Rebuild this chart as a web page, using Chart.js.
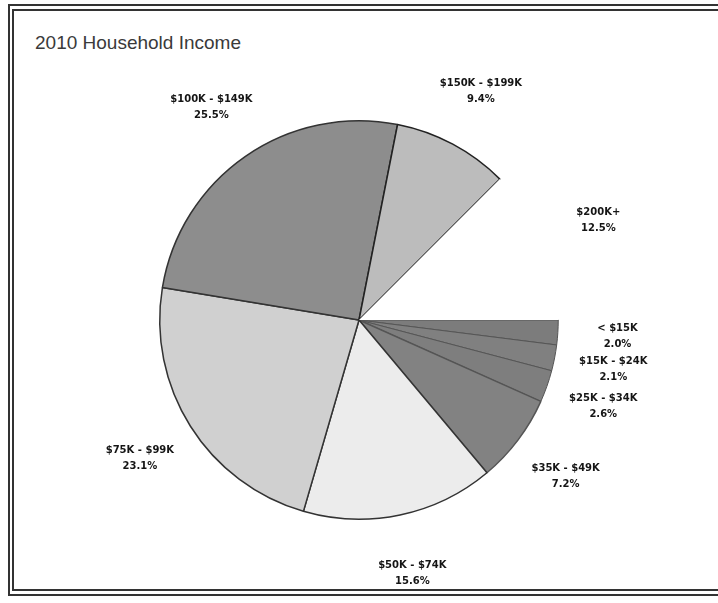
<!DOCTYPE html>
<html>
<head>
<meta charset="utf-8">
<script src="https://cdn.jsdelivr.net/npm/chart.js@4/dist/chart.umd.min.js"></script>
<style>
  html, body { margin: 0; padding: 0; background: #fff; overflow: hidden; }
  #wrap { position: relative; width: 718px; height: 603px; overflow: hidden; }
  .rule { position: absolute; background: #333; }
  #title { position: absolute; left: 35px; top: 32px; font: 19px "Liberation Sans", Arial, sans-serif; color: #3a3a3a; }
  canvas { position: absolute; left: 0; top: 0; }
</style>
</head>
<body>
<div id="wrap">
  <div class="rule" style="left:8px; top:4px; width:710px; height:2px;"></div>
  <div class="rule" style="left:12px; top:9px; width:706px; height:2px;"></div>
  <div class="rule" style="left:8px; top:4px; width:2px; height:592px;"></div>
  <div class="rule" style="left:12px; top:9px; width:2px; height:582px;"></div>
  <div class="rule" style="left:8px; top:594px; width:710px; height:2px;"></div>
  <div class="rule" style="left:12px; top:589px; width:706px; height:2px;"></div>
  <div id="title">2010 Household Income</div>
  <canvas id="myChart" width="718" height="603"></canvas>
</div>
<script>
// income brackets, clockwise from 3 o'clock
var labels = ['< $15K', '$15K - $24K', '$25K - $34K', '$35K - $49K', '$50K - $74K',
              '$75K - $99K', '$100K - $149K', '$150K - $199K', '$200K+'];
var shares = [2.0, 2.1, 2.6, 7.2, 15.6, 23.1, 25.5, 9.4, 12.5];

var fills = ['#7c7c7c', '#808080', '#7e7e7e', '#828282', '#ececec', '#d0d0d0', '#8d8d8d', '#bcbcbc', '#ffffff'];
var edgeColors = ['#555', '#555', '#555', '#555', '#333', '#333', '#333', '#222', '#fff'];
var edges = [1, 1, 1, 1.5, 1.5, 1.5, 1.5, 1.5, 0];

// draws "label / pct%" outside each slice
var outsideLabels = {
  id: 'outsideLabels',
  afterDatasetsDraw: function(chart) {
    var c = chart.ctx;
    var arcs = chart.getDatasetMeta(0).data;
    c.save();
    c.font = 'bold 10px "DejaVu Sans", Verdana, sans-serif';
    c.fillStyle = '#151515';
    c.textAlign = 'center';
    c.textBaseline = 'middle';
    arcs.forEach(function(arc, i) {
      var p = arc.getProps(['x', 'y', 'startAngle', 'endAngle', 'outerRadius'], true);
      var mid = (p.startAngle + p.endAngle) / 2;
      var d = p.outerRadius * 1.3;
      var x = p.x + Math.cos(mid) * d;
      var y = p.y + Math.sin(mid) * d;
      c.fillText(labels[i], x, y - 8);
      c.fillText(shares[i].toFixed(1) + '%', x, y + 8);
    });
    c.restore();
  }
};

var ctx = document.getElementById('myChart').getContext('2d');
var myChart = new Chart(ctx, {
  type: 'pie',
  data: {
    labels: labels,
    datasets: [{
      data: shares,
      backgroundColor: fills,
      borderColor: edgeColors,
      borderWidth: edges
    }]
  },
  options: {
    responsive: false,
    animation: false,
    rotation: 90,
    layout: { padding: { top: 120, bottom: 83, left: 159, right: 159 } },
    plugins: {
      legend: { display: false },
      tooltip: { enabled: false },
      title: { display: false }
    }
  },
  plugins: [outsideLabels]
});
</script>
</body>
</html>
